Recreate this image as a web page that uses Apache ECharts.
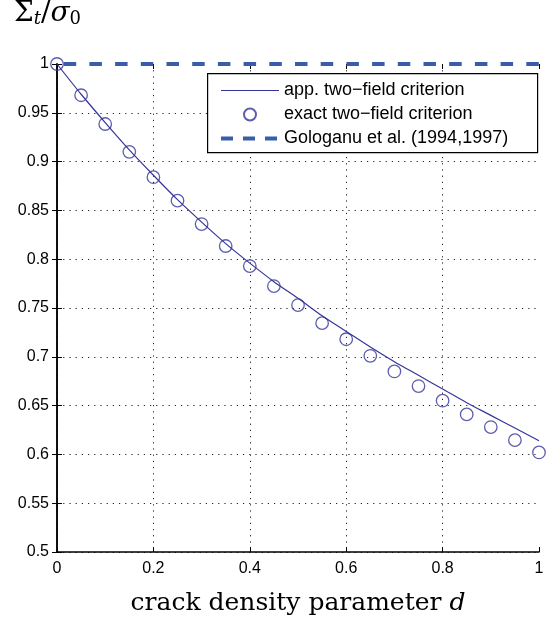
<!DOCTYPE html>
<html>
<head>
<meta charset="utf-8">
<style>html,body{margin:0;padding:0;background:#fff}#c{width:556px;height:621px}</style>
<script src="https://cdn.jsdelivr.net/npm/echarts@6/dist/echarts.min.js"></script>
</head>
<body>
<div id="c"></div>
<script>
// crack density parameter d
const dValues = [0, 0.05, 0.1, 0.15, 0.2, 0.25, 0.3, 0.35, 0.4, 0.45, 0.5, 0.55, 0.6, 0.65, 0.7, 0.75, 0.8, 0.85, 0.9, 0.95, 1.0];
// approximate two-field criterion (solid line)
const approxValues = [1.0, 0.969, 0.940, 0.912, 0.886, 0.861, 0.838, 0.816, 0.796, 0.777, 0.760, 0.742, 0.726, 0.710, 0.695, 0.681, 0.667, 0.653, 0.640, 0.627, 0.614];
// exact two-field criterion (circles)
const exactValues = [1.0, 0.968, 0.9385, 0.910, 0.884, 0.860, 0.836, 0.8135, 0.793, 0.7725, 0.753, 0.7345, 0.718, 0.701, 0.685, 0.670, 0.655, 0.641, 0.628, 0.6146, 0.602];
// Gologanu et al. (dashed)
const gologanuD = [0, 1];
const gologanuValues = [1, 1];
const seriesNames = ['app. two\u2212field criterion', 'exact two\u2212field criterion', 'Gologanu et al. (1994,1997)'];
const xTicks = { min: 0, max: 1, interval: 0.2 };
const yTicks = { min: 0.5, max: 1, interval: 0.05 };

const pair = (xs, ys) => xs.map((x, i) => [x, ys[i]]);
const ink = '#35359a';
const dashBlue = '#3a5da8';
const sans = 'Liberation Sans';
const serif = 'DejaVu Serif';
const clear = 'rgba(0,0,0,0)';

const chart = echarts.init(document.getElementById('c'), null, { renderer: 'canvas' });
const grid = { left: 57, right: 17, top: 64, bottom: 69 };
const dotted = { show: true, showMaxLine: false, lineStyle: { color: '#222', width: 1, type: [1.2, 5] } };
const tAxis = (fs, it) => ({ fontFamily: serif, fontSize: fs, fontStyle: it ? 'italic' : 'normal', fontWeight: 'normal', color: '#000' });

chart.setOption({
  animation: false,
  backgroundColor: '#fff',
  title: {
    left: 14, top: 2, padding: 0,
    text: '{a|\u03A3}{s|t}{a|/}{c|\u03C3}{s0|0}',
    textStyle: {
      fontWeight: 'normal',
      rich: {
        a: Object.assign(tAxis(28, false), { lineHeight: 26, verticalAlign: 'bottom' }),
        s: Object.assign(tAxis(18, true), { lineHeight: 8, verticalAlign: 'bottom' }),
        c: Object.assign(tAxis(28, true), { lineHeight: 26, verticalAlign: 'bottom' }),
        s0: Object.assign(tAxis(18, false), { lineHeight: 8, verticalAlign: 'bottom' })
      }
    }
  },
  grid: grid,
  xAxis: [{
    type: 'value', position: 'bottom', min: xTicks.min, max: xTicks.max, interval: xTicks.interval,
    axisLine: { show: true, lineStyle: { color: '#000', width: 1.5 } },
    axisTick: { show: true, inside: true, length: 5, lineStyle: { color: '#000', width: 1 } },
    axisLabel: { color: '#000', fontFamily: sans, fontSize: 16, margin: 9 },
    splitLine: dotted,
    name: '{n|crack density parameter }{i|d}',
    nameLocation: 'middle', nameGap: 39,
    nameTextStyle: {
      rich: { n: tAxis(25, false), i: tAxis(25, true) }
    }
  }, {
    type: 'value', position: 'top', min: xTicks.min, max: xTicks.max, interval: xTicks.interval,
    axisLine: { show: false },
    axisTick: { show: true, inside: true, length: 5, lineStyle: { color: '#000', width: 1 } },
    axisLabel: { show: false }, splitLine: { show: false }
  }],
  yAxis: [{
    type: 'value', position: 'left', min: yTicks.min, max: yTicks.max, interval: yTicks.interval,
    axisLine: { show: true, lineStyle: { color: '#000', width: 1.5 } },
    axisTick: { show: true, inside: true, length: 5, lineStyle: { color: '#000', width: 1 } },
    axisLabel: { color: '#000', fontFamily: sans, fontSize: 16, margin: 8 },
    splitLine: dotted
  }, {
    type: 'value', position: 'right', min: yTicks.min, max: yTicks.max, interval: yTicks.interval,
    axisLine: { show: true, lineStyle: { color: '#000', width: 1.5 } },
    axisTick: { show: true, inside: true, length: 5, lineStyle: { color: '#000', width: 1 } },
    axisLabel: { show: false }, splitLine: { show: false }
  }],
  graphic: [{
    type: 'rect', left: 207, top: 73, z: 50,
    shape: { width: 330, height: 79 },
    style: { fill: '#fff', stroke: '#000', lineWidth: 1.2 }
  }],
  legend: {
    left: 207, top: 73, z: 60, orient: 'vertical',
    padding: [8.5, 10, 7, 12],
    itemWidth: 58, itemHeight: 12, itemGap: 6,
    textStyle: { fontFamily: sans, fontSize: 18, color: '#000', lineHeight: 18 },
    data: [
      { name: seriesNames[0], itemStyle: { opacity: 0 }, lineStyle: { width: 1.2 } },
      { name: seriesNames[1] },
      { name: seriesNames[2], itemStyle: { opacity: 0 }, lineStyle: { width: 4, type: [12, 10], dashOffset: 0 } }
    ]
  },
  series: [{
    name: seriesNames[0], type: 'line', data: pair(dValues, approxValues),
    smooth: 0.3, symbol: 'none', showSymbol: false, clip: false,
    lineStyle: { color: ink, width: 1.2 }, itemStyle: { color: clear }, z: 3
  }, {
    name: seriesNames[1], type: 'scatter', data: pair(dValues, exactValues),
    symbol: 'circle', symbolSize: 12.5, clip: false,
    itemStyle: { color: clear, borderColor: ink, borderWidth: 1.3 }, z: 4
  }, {
    name: seriesNames[2], type: 'line', data: pair(gologanuD, gologanuValues),
    symbol: 'none', showSymbol: false, clip: false,
    lineStyle: { color: dashBlue, width: 4, type: [12.5, 13.2], dashOffset: 19 },
    itemStyle: { color: clear }, z: 5
  }]
});
</script>
</body>
</html>
